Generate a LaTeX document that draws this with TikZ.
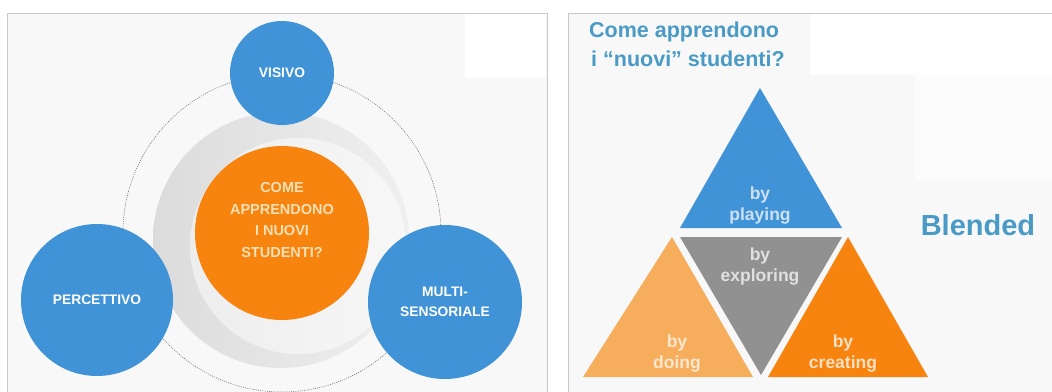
\documentclass[tikz,border=0pt]{standalone}
\usepackage{fontspec}
\setmainfont{Liberation Sans}
\definecolor{cblue}{HTML}{3F93D6}
\definecolor{corange}{HTML}{F7840E}
\definecolor{lorange}{HTML}{F6AD5C}
\definecolor{tgray}{HTML}{919191}
\definecolor{tblue}{HTML}{4A9AC6}
\definecolor{bgpanel}{HTML}{F8F8F8}
\definecolor{cream}{HTML}{F8E0B4}
\definecolor{framegray}{HTML}{C8C8C8}
\begin{document}
\begin{tikzpicture}[x=1pt,y=-1pt,
  bubble/.style={circle,fill=cblue,inner sep=0pt,text=white,font=\bfseries\fontsize{13.8}{20}\selectfont,align=center},
  tlabel/.style={font=\bfseries\fontsize{17.5}{21}\selectfont,align=center},
  title/.style={font=\bfseries\fontsize{21.5}{29}\selectfont,text=tblue,align=left}]
\useasboundingbox (0,0) rectangle (1052,391);
\fill[white] (0,0) rectangle (1052,391);
% panels
\fill[bgpanel] (7,13) rectangle (547,395);
\fill[white] (465,14) rectangle (546,78);
\draw[framegray,line width=0.8pt] (7,395) -- (7,13) -- (547,13) -- (547,395);
\fill[bgpanel] (568,13) rectangle (1056,395);
\fill[white] (810,14) rectangle (1056,75);
\fill[white!60!bgpanel] (915,75) rectangle (1056,180);
\draw[framegray,line width=0.8pt] (568,395) -- (568,13) -- (1056,13);
% left diagram
\shade[left color=black!14,right color=black!6] (281,240) circle[radius=128];
\shade[left color=black!7,right color=black!3] (298,246) circle[radius=108];
\draw[black!55,line width=0.6pt,dash pattern=on 1pt off 1.2pt] (282,233) circle[radius=159];
\node[bubble,minimum size=104pt] (vis) at (282,73) {VISIVO};
\node[bubble,minimum size=152pt] (per) at (97,300) {PERCETTIVO};
\node[bubble,minimum size=154pt] (mul) at (445,302) {MULTI-\\SENSORIALE};
\node[circle,fill=corange,inner sep=0pt,minimum size=174pt] (ctr) at (282,233) {};
\node[text=cream,font=\bfseries\fontsize{14.5}{21.5}\selectfont,align=center] (ctrtxt) at (282,220) {COME\\APPRENDONO\\I NUOVI\\STUDENTI?};
% right diagram
\node[title,anchor=north west,inner sep=0pt] (ttl) at (589,22) {Come apprendono\\\hspace*{2pt}i “nuovi” studenti?};
\fill[cblue] (760,88) -- (842,228) -- (680,228) -- cycle;
\fill[tgray] (680,237) -- (842,237) -- (761,375) -- cycle;
\fill[lorange] (672,237) -- (753,377) -- (583,377) -- cycle;
\fill[corange] (848,237) -- (928,377) -- (768,377) -- cycle;
\node[tlabel,text=blue!10!cblue!25!white] (play) at (760,206) {by\\playing};
\node[tlabel,text=white!88!black] (expl) at (760,267) {by\\exploring};
\node[tlabel,text=white!70!lorange] (doin) at (677,354) {by\\doing};
\node[tlabel,text=white!75!corange] (crea) at (843,354) {by\\creating};
\node[font=\bfseries\fontsize{29}{32}\selectfont,text=tblue] (blen) at (978,225) {Blended};
\end{tikzpicture}
\end{document}
